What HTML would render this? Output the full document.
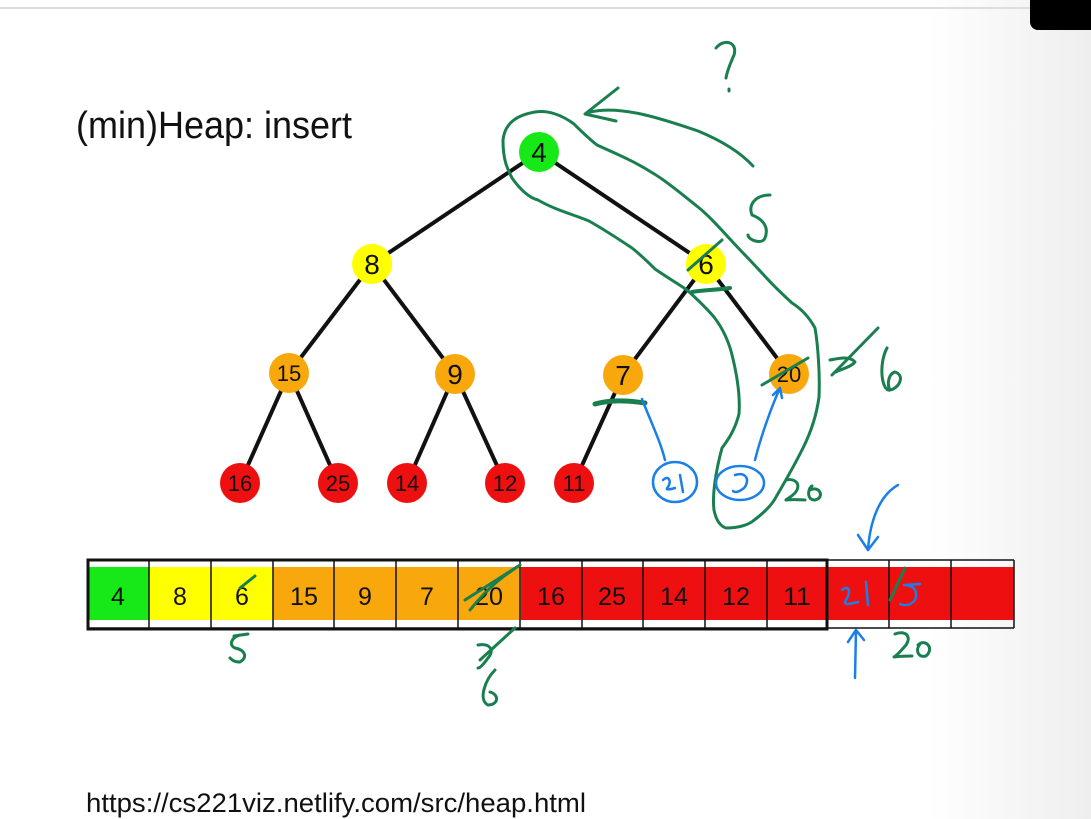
<!DOCTYPE html>
<html><head><meta charset="utf-8"><style>
html,body{margin:0;padding:0;width:1091px;height:819px;overflow:hidden;background:#fff}
svg{display:block}
text{font-family:"Liberation Sans",sans-serif}
</style></head><body>
<svg width="1091" height="819" viewBox="0 0 1091 819" xmlns="http://www.w3.org/2000/svg">
<defs><linearGradient id="g" x1="0" x2="1"><stop offset="0.85" stop-color="#fff"/><stop offset="1" stop-color="#eee"/></linearGradient></defs>
<rect width="1091" height="819" fill="url(#g)"/>
<line x1="0" y1="8" x2="1030" y2="8" stroke="#ddd" stroke-width="2"/>
<rect x="1030" y="-10" width="80" height="40" rx="8" fill="#000"/>
<text x="76" y="138" font-size="38" textLength="276" lengthAdjust="spacingAndGlyphs" fill="#111">(min)Heap: insert</text>
<g stroke="#111" stroke-width="4">
<line x1="539" y1="152" x2="372" y2="264"/><line x1="539" y1="152" x2="706" y2="264"/>
<line x1="372" y1="264" x2="289" y2="373"/><line x1="372" y1="264" x2="455" y2="374"/>
<line x1="706" y1="264" x2="623" y2="375"/><line x1="706" y1="264" x2="789" y2="374"/>
<line x1="289" y1="373" x2="240" y2="483"/><line x1="289" y1="373" x2="338" y2="483"/>
<line x1="455" y1="374" x2="407" y2="483"/><line x1="455" y1="374" x2="505" y2="483"/>
<line x1="623" y1="375" x2="574" y2="483"/>
</g>
<g font-size="22" text-anchor="middle" fill="#111">
<circle cx="539" cy="152" r="20" fill="#17e817"/><text x="539" y="162" font-size="28">4</text>
<circle cx="372" cy="264" r="20" fill="#ffff00"/><text x="372" y="274" font-size="28">8</text>
<circle cx="706" cy="264" r="20" fill="#ffff00"/><text x="706" y="274" font-size="28">6</text>
<circle cx="289" cy="373" r="20" fill="#f8a80c"/><text x="289" y="381">15</text>
<circle cx="455" cy="374" r="20" fill="#f8a80c"/><text x="455" y="384" font-size="28">9</text>
<circle cx="623" cy="375" r="20" fill="#f8a80c"/><text x="623" y="385" font-size="28">7</text>
<circle cx="789" cy="374" r="20" fill="#f8a80c"/><text x="789" y="382">20</text>
<circle cx="240" cy="483" r="20" fill="#ee1010"/><text x="240" y="491">16</text>
<circle cx="338" cy="483" r="20" fill="#ee1010"/><text x="338" y="491">25</text>
<circle cx="407" cy="483" r="20" fill="#ee1010"/><text x="407" y="491">14</text>
<circle cx="505" cy="483" r="20" fill="#ee1010"/><text x="505" y="491">12</text>
<circle cx="574" cy="483" r="20" fill="#ee1010"/><text x="574" y="491">11</text>
</g>
<!-- array -->
<g>
<rect x="87" y="567" width="62" height="53" fill="#17e817"/>
<rect x="149" y="567" width="124" height="53" fill="#ffff00"/>
<rect x="273" y="567" width="248" height="53" fill="#f8a80c"/>
<rect x="521" y="567" width="493" height="53" fill="#ee1010"/>
<g stroke="#111" stroke-width="1.5">
<line x1="87" y1="560" x2="1014" y2="560"/><line x1="87" y1="628" x2="1014" y2="628"/>
<line x1="149" y1="560" x2="149" y2="628"/><line x1="211" y1="560" x2="211" y2="628"/><line x1="273" y1="560" x2="273" y2="628"/><line x1="334" y1="560" x2="334" y2="628"/><line x1="396" y1="560" x2="396" y2="628"/><line x1="458" y1="560" x2="458" y2="628"/><line x1="520" y1="560" x2="520" y2="628"/><line x1="582" y1="560" x2="582" y2="628"/><line x1="643" y1="560" x2="643" y2="628"/><line x1="705" y1="560" x2="705" y2="628"/><line x1="767" y1="560" x2="767" y2="628"/><line x1="889" y1="560" x2="889" y2="628"/><line x1="951" y1="560" x2="951" y2="628"/><line x1="1014" y1="560" x2="1014" y2="628"/>
</g>
<rect x="88" y="560" width="739" height="69" fill="none" stroke="#111" stroke-width="3"/>
<g font-size="25" text-anchor="middle" fill="#111">
<text x="118" y="605">4</text><text x="180" y="605">8</text><text x="242" y="605">6</text><text x="304" y="605" textLength="28" lengthAdjust="spacingAndGlyphs">15</text><text x="365" y="605">9</text><text x="427" y="605">7</text><text x="489" y="605" textLength="28" lengthAdjust="spacingAndGlyphs">20</text><text x="551" y="605" textLength="28" lengthAdjust="spacingAndGlyphs">16</text><text x="612" y="605" textLength="28" lengthAdjust="spacingAndGlyphs">25</text><text x="674" y="605" textLength="28" lengthAdjust="spacingAndGlyphs">14</text><text x="736" y="605" textLength="28" lengthAdjust="spacingAndGlyphs">12</text><text x="797" y="605" textLength="28" lengthAdjust="spacingAndGlyphs">11</text>
</g>
</g>
<text x="86" y="812" font-size="27" textLength="500" lengthAdjust="spacingAndGlyphs" fill="#111">https://cs221viz.netlify.com/src/heap.html</text>
<!-- green annotations -->
<g fill="none" stroke="#1a7f4e" stroke-width="3" stroke-linecap="round" stroke-linejoin="round">
<path d="M535 112 C518 115 505 122 503 140 C503 160 507 168 512 178 C522 192 530 198 538 200 C555 210 575 215 589 221 C605 230 620 240 632 248 C642 256 650 264 655 269 C668 278 680 285 687 290 C698 300 708 310 714 317 C724 330 730 345 733 359 C738 380 740 400 739 414 C735 430 728 440 722 448 C716 470 712 495 714 510 C716 520 720 526 726 528 C738 528 748 525 753 521 C765 512 772 505 776 497 C786 480 796 462 803 448 C812 430 817 412 819 397 C820 375 818 345 815 328 C808 315 800 308 792 303 C780 292 770 282 761 272 C750 260 738 248 729 238 C718 226 708 215 698 207 C683 195 665 180 651 172 C632 160 612 152 597 145 C588 138 580 130 574 124 C562 115 548 110 535 112Z"/>
<path d="M618 88 L585 114 L616 121 M590 112 C620 105 660 118 698 131 C720 140 740 152 753 166"/>
<path d="M716 48 C724 38 738 42 734 55 C730 64 727 72 726 78 M729 89 L729 91"/>
<path d="M770 195 C755 195 748 205 752 215 C760 218 770 225 765 238 C762 245 748 240 748 235"/>
<path d="M688 270 L722 240"/>
<path d="M692 292 C705 290 715 290 730 288" stroke-width="4"/>
<path d="M595 404 C610 400 625 400 645 403" stroke-width="5"/>
<path d="M762 385 L808 358"/>
<path d="M832 375 L878 328 M830 360 C840 358 850 356 855 362 C850 368 838 370 836 372"/>
<path d="M887 348 C878 365 882 392 890 390 C900 388 905 375 895 372 C888 374 887 385 890 390"/>
<path d="M786 480 C795 478 802 484 795 493 C790 498 785 500 786 500 C795 499 800 500 805 500 M810 490 C820 485 825 498 815 500 C806 500 808 488 812 486"/>
<path d="M465 600 L520 565 M520 565 C505 575 490 585 470 610"/>
<path d="M240 588 L255 576"/>
<path d="M240 635 C232 637 228 645 235 648 C245 650 248 657 240 662 C234 662 232 660 230 658 M234 636 L248 634"/>
<path d="M480 660 L515 628 M478 645 C490 643 495 650 488 658 C483 665 480 668 478 668"/>
<path d="M495 670 C485 680 478 700 488 705 C498 705 500 695 490 692"/>
<path d="M905 568 L890 600 M895 634 C905 630 912 636 906 645 C900 652 896 656 894 657 C902 656 908 656 912 656 M918 645 C925 638 935 648 926 656 C918 658 915 650 920 644"/>
</g>
<!-- blue annotations -->
<g fill="none" stroke="#1a7fe8" stroke-width="2.5" stroke-linecap="round" stroke-linejoin="round">
<ellipse cx="675" cy="482" rx="22" ry="20"/>
<ellipse cx="740" cy="483" rx="24" ry="17"/>
<path d="M642 399 C650 420 660 440 665 460"/>
<path d="M780 388 C770 410 760 440 755 460 M773 395 L780 388 L782 398"/>
<path d="M663 480 C668 475 672 480 668 487 C665 490 668 490 675 488 M680 475 L683 492"/>
<path d="M735 475 C745 472 750 478 745 487 C740 492 735 493 733 491"/>
<path d="M898 485 C880 495 870 520 868 550 M858 535 L868 550 L878 537"/>
<path d="M842 590 C848 585 852 590 846 600 C842 606 850 604 858 602 M866 582 L868 605"/>
<path d="M904 585 C915 585 918 592 915 600 C910 606 905 606 900 604 M904 585 L920 584"/>
<path d="M855 678 L856 630 M848 642 L856 630 L864 640"/>
</g>
</svg>
</body></html>
